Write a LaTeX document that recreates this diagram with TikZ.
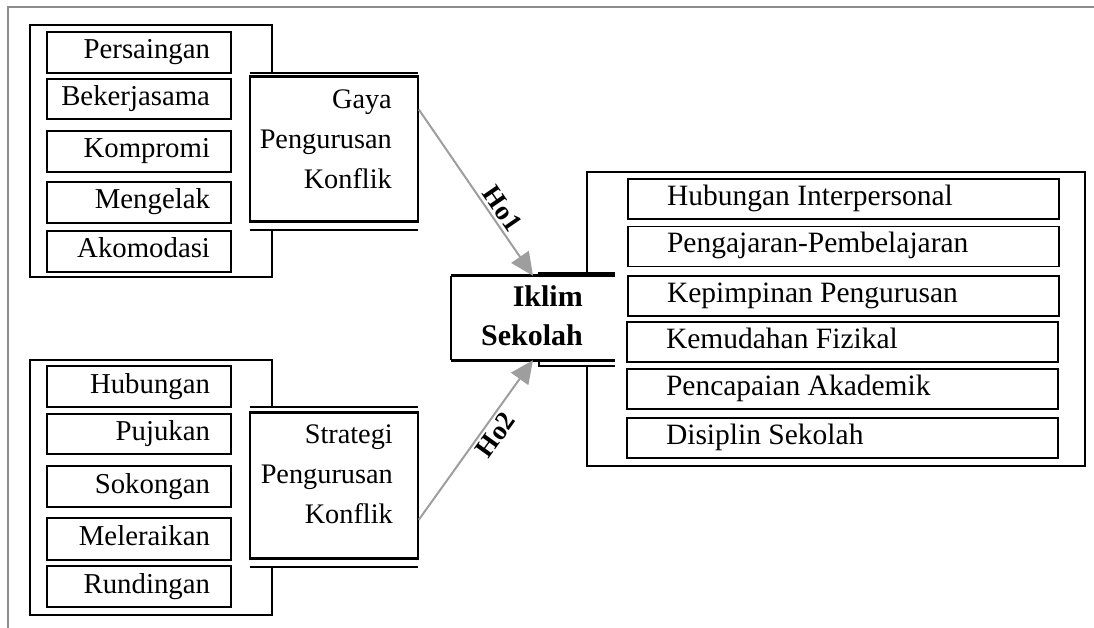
\documentclass[tikz,border=0pt]{standalone}
\usepackage{fontspec}
\setmainfont{Liberation Serif}
\usetikzlibrary{arrows.meta}
\newcommand{\RB}[1]{\makebox[142pt][r]{#1}}
\newcommand{\LB}[1]{\makebox[353pt][l]{#1}}
\begin{document}
\begin{tikzpicture}[x=1pt,y=-1pt,
  txt/.style={font=\fontsize{29.5}{40}\selectfont},
  ltxt/.style={font=\fontsize{28.8}{40}\selectfont},
  lbox/.style={draw, line width=1.6pt, minimum width=184pt, minimum height=41pt,
    inner xsep=21pt, inner ysep=0pt, text height=19pt, text depth=6pt, ltxt},
  rbox/.style={draw, line width=1.6pt, minimum width=431pt, minimum height=40pt,
    inner xsep=39pt, inner ysep=0pt, text height=19pt, text depth=6pt, txt},
  rboxb/.style={rbox, line width=2.4pt},
  mainbox/.style={draw, line width=1.6pt, minimum width=168pt, minimum height=144pt, inner sep=0pt},
  thickl/.style={line width=3pt},
  thinl/.style={line width=1.4pt},
  grp/.style={line width=2.2pt},
  mtxt/.style={inner sep=0pt, anchor=north east, font=\fontsize{28.3}{40}\selectfont},
  arr/.style={draw=black!38, line width=2pt, -{Triangle[length=23pt,width=21pt]}},
  lab/.style={font=\fontsize{27}{30}\selectfont\bfseries, inner sep=3pt}
]
\useasboundingbox (0,0) rectangle (1094,628);
% frame
\draw[black!45, line width=2pt] (1094,7) -- (8,7) -- (8,628);

% ---- group 1
\draw[grp] (272,73) -- (272,25) -- (30,25) -- (30,277) -- (272,277) -- (272,230);
\node[lbox] (p1) at (139,52.5) {\RB{Persaingan}};
\node[lbox, minimum height=40pt] (p2) at (139,99) {\RB{Bekerjasama}};
\node[lbox] (p3) at (139,151.5) {\RB{Kompromi}};
\node[lbox] (p4) at (139,202.5) {\RB{Mengelak}};
\node[lbox] (p5) at (139,251.5) {\RB{Akomodasi}};
\node[mainbox] (gaya) at (334,149) {};
\draw[thickl] (gaya.north west) -- (gaya.north east);
\draw[thickl] (gaya.south west) -- (gaya.south east);
\draw[thinl] (250,73) -- (418,73);
\draw[thinl] (250,230) -- (418,230);
\node[mtxt] (gayaT) at (392,80) {\begin{tabular}{@{}r@{}}Gaya\\Pengurusan\\Konflik\end{tabular}};

% ---- group 2
\draw[grp] (272,407) -- (272,360) -- (30,360) -- (30,615) -- (272,615) -- (272,567);
\node[lbox] (s1) at (139,386.5) {\RB{Hubungan}};
\node[lbox, minimum height=40pt] (s2) at (139,434) {\RB{Pujukan}};
\node[lbox] (s3) at (139,486.5) {\RB{Sokongan}};
\node[lbox, minimum height=42pt] (s4) at (139,539) {\RB{Meleraikan}};
\node[lbox] (s5) at (139,586.5) {\RB{Rundingan}};
\node[mainbox, minimum height=145pt] (strat) at (334,485.5) {};
\draw[thickl] (strat.north west) -- (strat.north east);
\draw[thickl] (strat.south west) -- (strat.south east);
\draw[thinl] (250,407) -- (418,407);
\draw[thinl, line width=2pt] (250,567) -- (418,567);
\node[mtxt] (stratT) at (393,415) {\begin{tabular}{@{}r@{}}Strategi\\Pengurusan\\Konflik\end{tabular}};

% ---- centre
\node[minimum width=164pt, minimum height=84pt, inner sep=0pt] (iklim) at (533,318) {};
\draw[thinl] (iklim.north west) -- (iklim.south west);
\draw[thickl] (iklim.north west) -- (iklim.north east);
\draw[thickl] (iklim.south west) -- (iklim.south east);
\draw[thinl] (539,276) -- (539,273) -- (615,273);
\draw[thinl] (539,360) -- (539,366) -- (615,366);
\node[inner sep=0pt, anchor=north east, font=\fontsize{30}{39}\selectfont\bfseries] (iklimT) at (583,278.7)
  {\begin{tabular}{@{}r@{}}Iklim\\Sekolah\end{tabular}};

% ---- right group
\draw[grp] (587,273) -- (587,172) -- (1085,172) -- (1085,466) -- (587,466) -- (587,366);
\node[rbox] (r1) at (843.5,199) {\LB{Hubungan Interpersonal}};
\node[rbox] (r2) at (843.5,246.5) {\LB{Pengajaran-Pembelajaran}};
\node[rbox] (r3) at (843.5,296) {\LB{Kepimpinan Pengurusan}};
\node[rboxb] (r4) at (842.5,342) {\LB{Kemudahan Fizikal}};
\node[rboxb] (r5) at (842.5,389) {\LB{Pencapaian Akademik}};
\node[rboxb] (r6) at (842.5,438) {\LB{Disiplin Sekolah}};

% ---- arrows
\draw[arr] (gaya.25) -- node[sloped, above, pos=0.64, lab] (ho1) {Ho1} (iklim.north);
\draw[arr] (strat.-22) -- node[sloped, below, pos=0.58, lab] (ho2) {Ho2} (iklim.south);
\end{tikzpicture}
\end{document}
